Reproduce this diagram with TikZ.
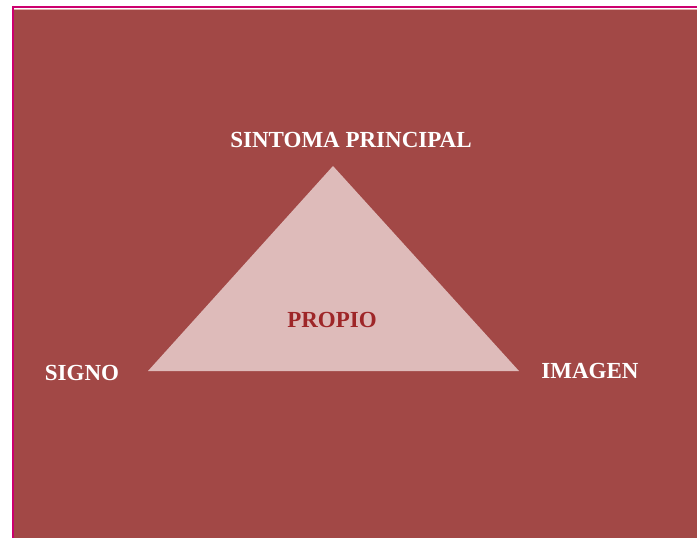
\documentclass[tikz,border=0pt]{standalone}
\usepackage{fontspec}
\setmainfont{Liberation Serif}
\definecolor{bgred}{RGB}{162,72,70}
\definecolor{tripink}{RGB}{222,187,186}
\definecolor{framemag}{RGB}{204,0,110}
\definecolor{paleline}{RGB}{226,176,172}
\definecolor{darkred}{RGB}{158,38,40}
\tikzset{
  lbl/.style={anchor=base, inner sep=0pt, font=\fontsize{23}{26}\selectfont\bfseries, text=white},
  innerlbl/.style={lbl, text=darkred}
}
\begin{document}
\begin{tikzpicture}[x=1pt,y=-1pt]
\useasboundingbox (0,0) rectangle (697,538);
\fill[white] (0,0) rectangle (697,538);
\fill[bgred] (14,10) rectangle (697,538);
\draw[paleline, line width=1pt] (14,9.5) -- (697,9.5);
\draw[framemag, line width=2.5pt] (12,7) -- (697,7);
\draw[framemag, line width=2.5pt] (13,5.8) -- (13,538);
\coordinate (apex) at (333,166);
\coordinate (bl) at (148,371);
\coordinate (br) at (519,371);
\fill[tripink] (apex) -- (bl) -- (br) -- cycle;
\node[lbl] (sint) at (351,147) {SINTOMA PRINCIPAL};
\node[lbl] (signo) at (82,380) {SIGNO};
\node[lbl] (imagen) at (590,378) {IMAGEN};
\node[innerlbl] (propio) at (332,327) {PROPIO};
\end{tikzpicture}
\end{document}
